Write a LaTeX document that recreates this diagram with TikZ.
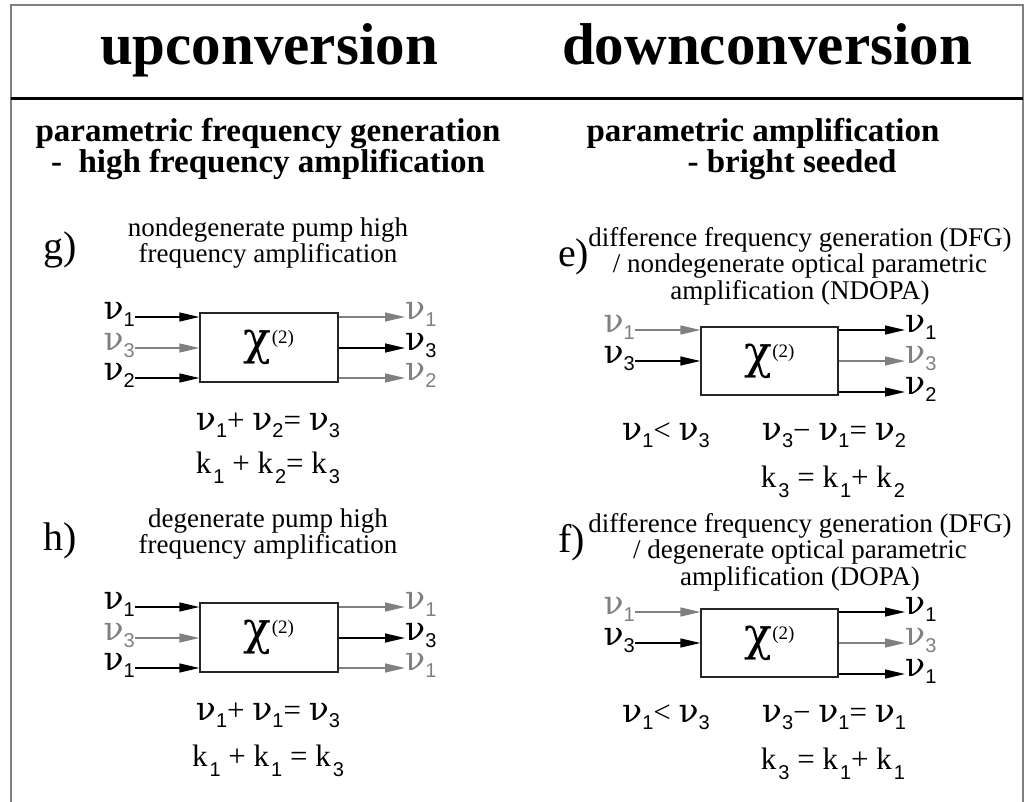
\documentclass[tikz,border=0pt]{standalone}
\usepackage{fontspec}
\setmainfont{Liberation Serif}
\newfontfamily\idxfont{Liberation Sans}
\newfontfamily\grkfont{DejaVu Serif}
\usetikzlibrary{arrows.meta, positioning, calc}
\definecolor{mIdle}{HTML}{808080}
\definecolor{mFrame}{HTML}{7F7F7F}

\newcommand{\fs}[1]{\fontsize{#1}{#1}\selectfont}
\newcommand{\lowidx}[1]{\raisebox{-7pt}{\idxfont\fs{20}#1}}
\newcommand{\kidx}[1]{\kern2pt\raisebox{-10pt}{\idxfont\fs{20}#1}}
\newcommand{\nuf}{{\grkfont\fs{33}ν}}
\newcommand{\chitwo}{{\grkfont\fs{46}χ}\raisebox{11pt}{\fs{19}(2)}}

\begin{document}
\begin{tikzpicture}[x=1pt, y=-1pt,
      title/.style={font=\bfseries\fs{59}, anchor=base, inner sep=0pt},
      subhead/.style={font=\bfseries\fs{33}, anchor=base, inner sep=0pt},
      tag/.style={font=\fs{40}, anchor=base west, inner sep=0pt},
      desc/.style={font=\fs{27}, anchor=base, inner sep=0pt},
      eqn/.style={font=\fs{31}, anchor=base, inner sep=0pt},
      nulab/.style={font=\fs{36}, inner sep=0pt},
      crystal/.style={draw=black!85, line width=1.3pt, minimum width=138pt, minimum height=69pt, inner sep=0pt},
      beam/.style={line width=1.3pt, -{Triangle[length=20pt, width=9pt]}},
      idle/.style={beam, mIdle}]
    \useasboundingbox (0,0) rectangle (1026,802);
    % frame
    \draw[mFrame, line width=2pt] (11,802) -- (11,5) -- (1023,5) -- (1023,802);
    \draw[line width=3pt] (11,99) -- (1023,99);
    % headings
    \node[title] (up) at (269,65) {upconversion};
    \node[title] (down) at (767,65) {downconversion};
    \node[subhead] (pl1) at (268,142) {parametric frequency generation};
    \node[subhead] (pl2) at (268,173) {-\ \ high frequency amplification};
    \node[subhead] (pr1) at (763,142) {parametric amplification};
    \node[subhead] (pr2) at (792,173) {- bright seeded};

    % g) nondegenerate pump
    \node[tag] (gtag) at (43,260) {g)};
    \node[desc] (gd1) at (268,237) {nondegenerate pump high};
    \node[desc] (gd2) at (268,263) {frequency amplification};
    \node[crystal] (gbox) at (269,347.5) {\chitwo};
    \node[nulab, anchor=mid east] (gi1) at (135,317) {\nuf\lowidx{1}};
    \node[nulab, anchor=mid east, text=mIdle] (gi3) at (135,348) {\nuf\lowidx{3}};
    \node[nulab, anchor=mid east] (gi2) at (135,378) {\nuf\lowidx{2}};
    \node[nulab, anchor=mid west, text=mIdle] (go1) at (405,317) {\nuf\lowidx{1}};
    \node[nulab, anchor=mid west] (go3) at (405,348) {\nuf\lowidx{3}};
    \node[nulab, anchor=mid west, text=mIdle] (go2) at (405,378) {\nuf\lowidx{2}};
    \draw[beam] (gi1.mid east) -- (gi1.mid east -| gbox.west); \draw[idle] (gi3.mid east) -- (gi3.mid east -| gbox.west);
    \draw[beam] (gi2.mid east) -- (gi2.mid east -| gbox.west);
    \draw[idle] (gbox.east |- go1.mid west) -- (go1.mid west); \draw[beam] (gbox.east |- go3.mid west) -- (go3.mid west);
    \draw[idle] (gbox.east |- go2.mid west) -- (go2.mid west);
    \node[eqn] (geq1) at (268,430) {\nuf\lowidx{1}+ \nuf\lowidx{2}= \nuf\lowidx{3}};
    \node[eqn] (geq2) at (268,473) {k\kidx{1} + k\kidx{2}= k\kidx{3}};

    % h) degenerate pump
    \node[tag] (htag) at (43,550) {h)};
    \node[desc] (hd1) at (268,527) {degenerate pump high};
    \node[desc] (hd2) at (268,553) {frequency amplification};
    \node[crystal] (hbox) at (269,637.5) {\chitwo};
    \node[nulab, anchor=mid east] (hi1) at (135,607) {\nuf\lowidx{1}};
    \node[nulab, anchor=mid east, text=mIdle] (hi3) at (135,638) {\nuf\lowidx{3}};
    \node[nulab, anchor=mid east] (hi1b) at (135,668) {\nuf\lowidx{1}};
    \node[nulab, anchor=mid west, text=mIdle] (ho1) at (405,607) {\nuf\lowidx{1}};
    \node[nulab, anchor=mid west] (ho3) at (405,638) {\nuf\lowidx{3}};
    \node[nulab, anchor=mid west, text=mIdle] (ho1b) at (405,668) {\nuf\lowidx{1}};
    \draw[beam] (hi1.mid east) -- (hi1.mid east -| hbox.west); \draw[idle] (hi3.mid east) -- (hi3.mid east -| hbox.west);
    \draw[beam] (hi1b.mid east) -- (hi1b.mid east -| hbox.west);
    \draw[idle] (hbox.east |- ho1.mid west) -- (ho1.mid west); \draw[beam] (hbox.east |- ho3.mid west) -- (ho3.mid west);
    \draw[idle] (hbox.east |- ho1b.mid west) -- (ho1b.mid west);
    \node[eqn] (heq1) at (268,720) {\nuf\lowidx{1}+ \nuf\lowidx{1}= \nuf\lowidx{3}};
    \node[eqn] (heq2) at (268,766) {k\kidx{1} + k\kidx{1} = k\kidx{3}};

    % e) NDOPA
    \node[tag] (etag) at (558,267) {e)};
    \node[desc] (ed1) at (800,247) {difference frequency generation (DFG)};
    \node[desc] (ed2) at (800,273) {/ nondegenerate optical parametric};
    \node[desc] (ed3) at (800,300) {amplification (NDOPA)};
    \node[crystal, minimum width=137pt, minimum height=68pt] (ebox) at (769.5,361) {\chitwo};
    \node[nulab, anchor=mid east, text=mIdle] (ei1) at (635,330) {\nuf\lowidx{1}};
    \node[nulab, anchor=mid east] (ei3) at (635,361) {\nuf\lowidx{3}};
    \node[nulab, anchor=mid west] (eo1) at (905,330) {\nuf\lowidx{1}};
    \node[nulab, anchor=mid west, text=mIdle] (eo3) at (905,361) {\nuf\lowidx{3}};
    \node[nulab, anchor=mid west] (eo2) at (905,392) {\nuf\lowidx{2}};
    \draw[idle] (ei1.mid east) -- (ei1.mid east -| ebox.west); \draw[beam] (ei3.mid east) -- (ei3.mid east -| ebox.west);
    \draw[beam] (ebox.east |- eo1.mid west) -- (eo1.mid west); \draw[idle] (ebox.east |- eo3.mid west) -- (eo3.mid west);
    \draw[beam] (ebox.east |- eo2.mid west) -- (eo2.mid west);
    \node[eqn] (eeq1) at (666,440) {\nuf\lowidx{1}< \nuf\lowidx{3}};
    \node[eqn] (eeq2) at (834,440) {\nuf\lowidx{3}− \nuf\lowidx{1}= \nuf\lowidx{2}};
    \node[eqn] (eeq3) at (833,487) {k\kidx{3} = k\kidx{1}+ k\kidx{2}};

    % f) DOPA
    \node[tag] (ftag) at (558,552) {f)};
    \node[desc] (fd1) at (800,532) {difference frequency generation (DFG)};
    \node[desc] (fd2) at (800,558) {/ degenerate optical parametric};
    \node[desc] (fd3) at (800,585) {amplification (DOPA)};
    \node[crystal, minimum width=137pt, minimum height=68pt] (fbox) at (769.5,643) {\chitwo};
    \node[nulab, anchor=mid east, text=mIdle] (fi1) at (635,612) {\nuf\lowidx{1}};
    \node[nulab, anchor=mid east] (fi3) at (635,643) {\nuf\lowidx{3}};
    \node[nulab, anchor=mid west] (fo1) at (905,612) {\nuf\lowidx{1}};
    \node[nulab, anchor=mid west, text=mIdle] (fo3) at (905,643) {\nuf\lowidx{3}};
    \node[nulab, anchor=mid west] (fo1b) at (905,674) {\nuf\lowidx{1}};
    \draw[idle] (fi1.mid east) -- (fi1.mid east -| fbox.west); \draw[beam] (fi3.mid east) -- (fi3.mid east -| fbox.west);
    \draw[beam] (fbox.east |- fo1.mid west) -- (fo1.mid west); \draw[idle] (fbox.east |- fo3.mid west) -- (fo3.mid west);
    \draw[beam] (fbox.east |- fo1b.mid west) -- (fo1b.mid west);
    \node[eqn] (feq1) at (666,722) {\nuf\lowidx{1}< \nuf\lowidx{3}};
    \node[eqn] (feq2) at (834,722) {\nuf\lowidx{3}− \nuf\lowidx{1}= \nuf\lowidx{1}};
    \node[eqn] (feq3) at (833,769) {k\kidx{3} = k\kidx{1}+ k\kidx{1}};
  \end{tikzpicture}
\end{document}
